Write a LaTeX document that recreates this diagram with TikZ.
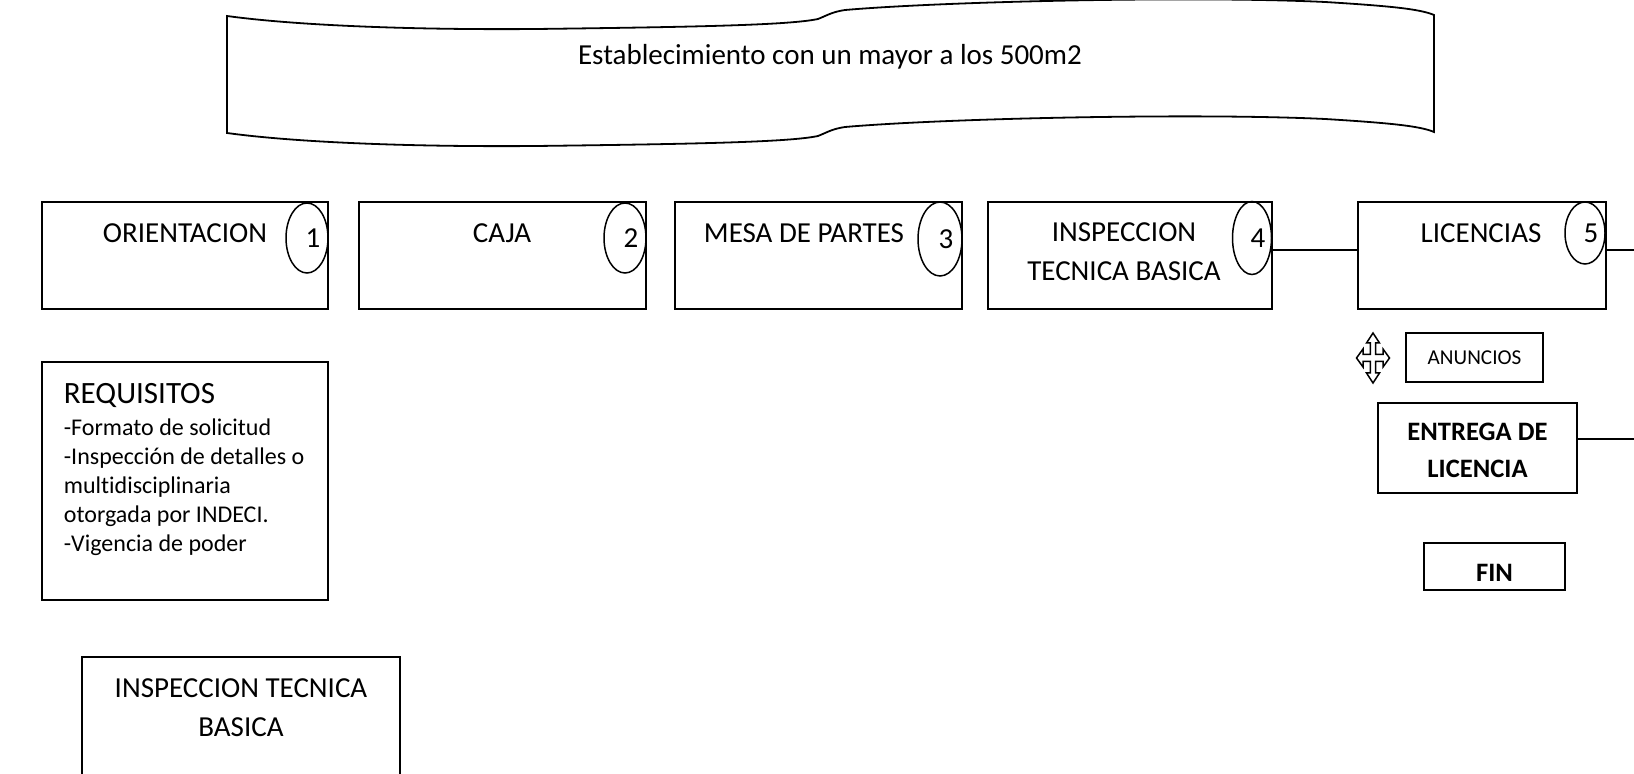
\documentclass[tikz,border=0pt]{standalone}
\usepackage{fontspec}
\setmainfont{Carlito}[Ligatures=NoCommon]
\usetikzlibrary{positioning,shapes.geometric}
\newcommand\flechacruz[1]{\draw[line width=0.75pt, shift={(#1)}]
  (0,-25) -- (6.5,-15) -- (2.7,-15) -- (2.7,-3.5) -- (10,-3.5) -- (10,-9) -- (16.5,0)
  -- (10,9) -- (10,3.5) -- (2.7,3.5) -- (2.7,15) -- (6.5,15) -- (0,25) -- (-6.5,15)
  -- (-2.7,15) -- (-2.7,3.5) -- (-10,3.5) -- (-10,9) -- (-16.5,0) -- (-10,-9)
  -- (-10,-3.5) -- (-2.7,-3.5) -- (-2.7,-15) -- (-6.5,-15) -- cycle;}

\begin{document}
\begin{tikzpicture}[x=0.5pt, y=-0.5pt, line width=0.9pt,
    caja/.style={draw, rectangle, inner sep=0pt},
    numero/.style={draw, ellipse, inner sep=0pt, line width=0.75pt,
      font=\fontsize{14.5}{17}\selectfont},
    texto/.style={inner sep=0pt, align=center, font=\fontsize{14.5}{19.5}\selectfont},
    negrita/.style={inner sep=0pt, align=center, font=\fontsize{13.3}{18.5}\selectfont\bfseries}]

  \useasboundingbox (0,0) rectangle (1634,774);
  \clip (0,0) rectangle (1634,774);

  % cinta superior
  \draw (227,16) .. controls (300,26) and (420,30) .. (536,29)
    .. controls (700,27) and (790,25) .. (818,19)
    .. controls (828,15) and (832,12) .. (845,10)
    .. controls (950,1) and (1200,-4) .. (1325,2)
    .. controls (1390,6) and (1420,9) .. (1434,15)
    -- (1434,132)
    .. controls (1420,126) and (1390,123) .. (1325,119)
    .. controls (1200,113) and (950,118) .. (845,127)
    .. controls (832,129) and (828,132) .. (818,136)
    .. controls (790,142) and (700,144) .. (536,146)
    .. controls (420,147) and (300,143) .. (227,133) -- cycle;
  \node[texto, anchor=base] (titulo) at (830,65) {Establecimiento con un mayor a los 500m2};

  % pasos
  \node[caja, minimum width=143pt, minimum height=53.5pt] (orient) at (185,255.5) {};
  \node[caja, minimum width=143.5pt, minimum height=53.5pt] (pago) at (502.5,255.5) {};
  \node[caja, minimum width=143.5pt, minimum height=53.5pt] (mesa) at (818.5,255.5) {};
  \node[caja, minimum width=142pt, minimum height=53.5pt] (insp) at (1130,255.5) {};
  \node[caja, minimum width=124pt, minimum height=53.5pt] (lic) at (1482,255.5) {};

  \node[texto, anchor=north] (t-orient) at (185,223) {ORIENTACION};
  \node[texto, anchor=north] (t-pago) at (502,223) {CAJA};
  \node[texto, anchor=north] (t-mesa) at (804,223) {MESA DE PARTES};
  \node[texto, anchor=north] (t-insp) at (1124,222) {INSPECCION\\TECNICA BASICA};
  \node[texto, anchor=north] (t-lic) at (1481,223) {LICENCIAS};

  \foreach \n/\x/\y/\w/\h in {1/307/238/21/35, 2/625/238/21/35, 3/940/239/22/37,
                              4/1252/238/19.5/36.5, 5/1585/233/20/31}
    \node[numero, minimum width=\w pt, minimum height=\h pt] (e\n) at (\x,\y) {\hspace{6pt}\n};

  % anuncios y entrega
  \flechacruz{1373,358}
  \node[caja, minimum width=68.5pt, minimum height=24.5pt,
        font=\fontsize{10.6}{12}\selectfont] (anun) at (1474.5,357.5) {ANUNCIOS};
  \node[caja, minimum width=99.5pt, minimum height=45pt] (entrega) at (1477.5,448) {};
  \node[negrita, anchor=north] (t-entrega) at (1477.5,422) {ENTREGA DE\\LICENCIA};
  \node[caja, minimum width=70.5pt, minimum height=23.5pt] (fin) at (1494.5,566.5) {};
  \node[negrita, anchor=north] (t-fin) at (1494.5,563) {FIN};

  % requisitos
  \node[caja, minimum width=143pt, minimum height=119pt] (requ) at (185,481) {};
  \node[inner sep=0pt, anchor=north west, font=\fontsize{15.5}{18}\selectfont] (t-requ) at (63,382) {REQUISITOS};
  \node[inner sep=0pt, anchor=north west, align=left, font=\fontsize{12}{14.5}\selectfont] (t-lista) at (63,418)
    {-Formato de solicitud\\-Inspección de detalles o\\multidisciplinaria\\otorgada por INDECI.\\-Vigencia de poder};

  \node[caja, minimum width=159pt, minimum height=81.5pt] (inspb) at (241.25,738.5) {};
  \node[texto, anchor=north] (t-inspb) at (241,678) {INSPECCION TECNICA\\BASICA};

  % conectores
  \coordinate (bordeA) at (1634,250);
  \coordinate (bordeB) at (1634,439);
  \draw ([yshift=2.75pt]insp.east) -- ([yshift=2.75pt]lic.west);
  \draw ([yshift=2.75pt]lic.east) -- (bordeA);
  \draw ([yshift=4.5pt]entrega.east) -- (bordeB);
\end{tikzpicture}
\end{document}
